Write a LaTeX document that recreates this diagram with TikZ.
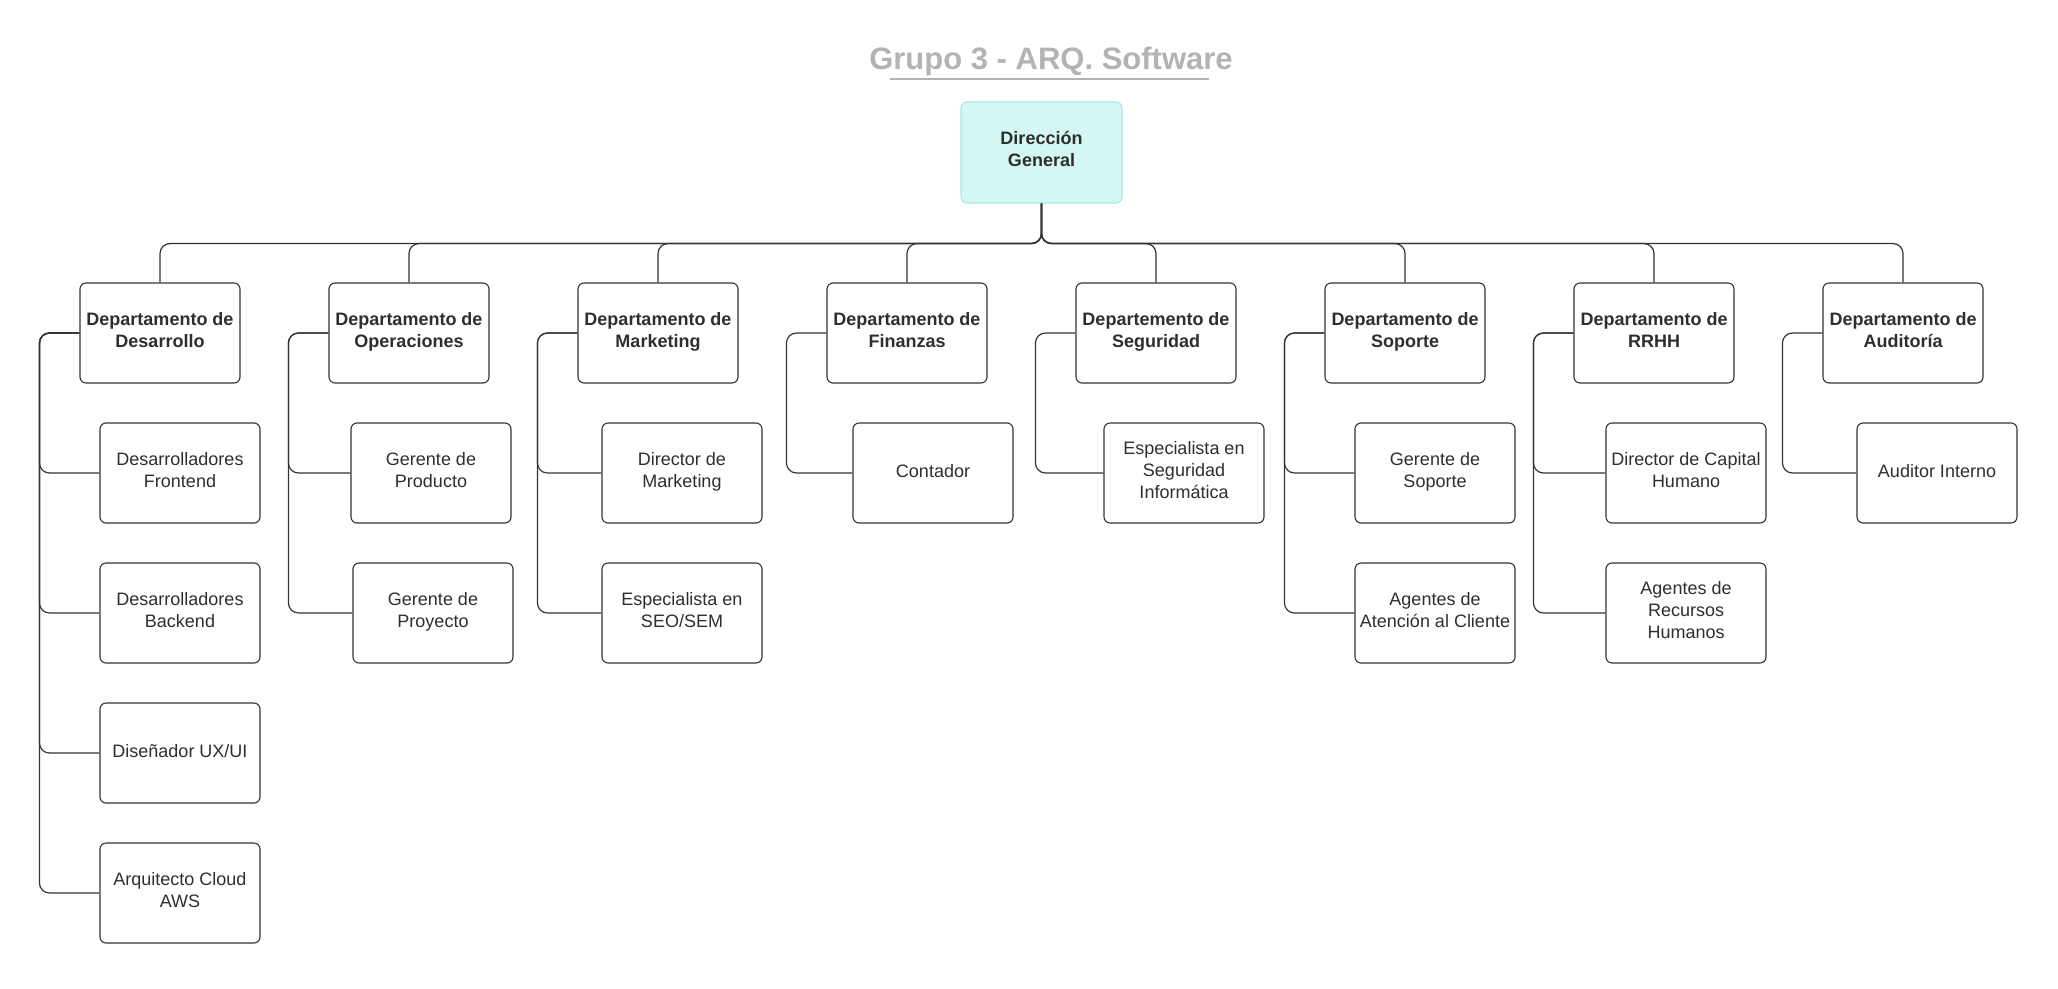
\documentclass[tikz,border=0pt]{standalone}
\usepackage{fontspec}
\setmainfont{Liberation Sans}
\definecolor{linec}{HTML}{333333}
\definecolor{textc}{HTML}{2E2E2E}
\definecolor{titlec}{HTML}{B3B3B3}
\definecolor{dgfill}{HTML}{D5F7F3}
\definecolor{dgdraw}{HTML}{A6E9E0}
\tikzset{
  box/.style={draw=linec, line width=1.1pt, rounded corners=6pt, minimum width=160pt,
    minimum height=100pt, inner sep=0pt, align=center, text=textc,
    font=\fontsize{18}{22}\selectfont,
    execute at begin node=\strut, execute at end node=\strut},
  deptbox/.style={box, font=\fontsize{18}{22}\selectfont\bfseries},
  rolebox/.style={box},
  conn/.style={draw=linec, line width=1.2pt, rounded corners=10pt},
}
\begin{document}
\begin{tikzpicture}[x=1pt,y=-1pt]
\useasboundingbox (0,0) rectangle (2058,988);

% title
\node[anchor=base, text=titlec, font=\fontsize{31}{36}\selectfont\bfseries, inner sep=0pt] (title) at (1051,69) {Grupo 3 - ARQ. Software};
\coordinate (ula) at (890,79);
\coordinate (ulb) at (1209,79);
\draw[titlec, line width=2pt] (ula) -- (ulb);

% root
\node[box, draw=dgdraw, fill=dgfill, minimum width=161pt, minimum height=101pt,
  font=\fontsize{18}{22}\selectfont\bfseries] (dg) at (1041.5,152.5) {Dirección\\General};

% departments
\node[deptbox] (d1) at (160,333) {Departamento de\\Desarrollo};
\node[deptbox] (d2) at (409,333) {Departamento de\\Operaciones};
\node[deptbox] (d3) at (658,333) {Departamento de\\Marketing};
\node[deptbox] (d4) at (907,333) {Departamento de\\Finanzas};
\node[deptbox] (d5) at (1156,333) {Departemento de\\Seguridad};
\node[deptbox] (d6) at (1405,333) {Departamento de\\Soporte};
\node[deptbox] (d7) at (1654,333) {Departamento de\\RRHH};
\node[deptbox] (d8) at (1903,333) {Departamento de\\Auditoría};

% roles
\node[rolebox] (r11) at (180,473) {Desarrolladores\\Frontend};
\node[rolebox] (r12) at (180,613) {Desarrolladores\\Backend};
\node[rolebox] (r13) at (180,753) {Diseñador UX/UI};
\node[rolebox] (r14) at (180,893) {Arquitecto Cloud\\AWS};

\node[rolebox] (r21) at (431,473) {Gerente de\\Producto};
\node[rolebox] (r22) at (433,613) {Gerente de\\Proyecto};

\node[rolebox] (r31) at (682,473) {Director de\\Marketing};
\node[rolebox] (r32) at (682,613) {Especialista en\\SEO/SEM};

\node[rolebox] (r41) at (933,473) {Contador};

\node[rolebox] (r51) at (1184,473) {Especialista en\\Seguridad\\Informática};

\node[rolebox] (r61) at (1435,473) {Gerente de\\Soporte};
\node[rolebox] (r62) at (1435,613) {Agentes de\\Atención al Cliente};

\node[rolebox] (r71) at (1686,473) {Director de Capital\\Humano};
\node[rolebox] (r72) at (1686,613) {Agentes de\\Recursos\\Humanos};

\node[rolebox] (r81) at (1937,473) {Auditor Interno};

% root to departments
\foreach \d in {d1,d2,d3,d4,d5,d6,d7,d8}
  \draw[conn] (dg.south) -- ++(0,40) -| (\d.north);

% departments to roles
\foreach \d/\r in {d1/r11,d1/r12,d1/r13,d1/r14,d2/r21,d2/r22,d3/r31,d3/r32,d4/r41,d5/r51,d6/r61,d6/r62,d7/r71,d7/r72,d8/r81}
  \draw[conn] (\d.west) -- ++(-40,0) |- (\r.west);
\end{tikzpicture}
\end{document}
